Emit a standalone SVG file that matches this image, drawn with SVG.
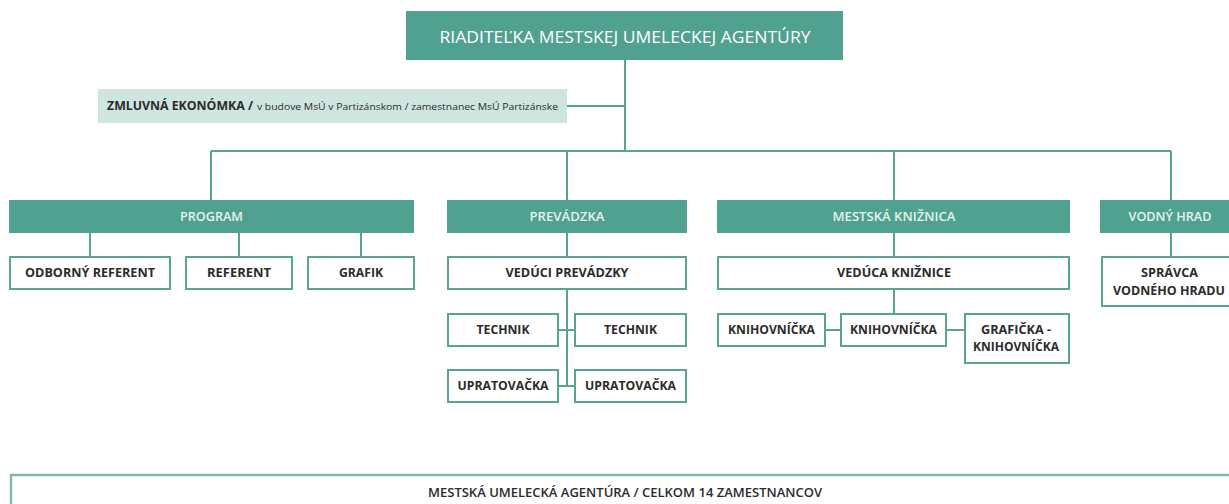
<svg xmlns="http://www.w3.org/2000/svg" width="1229" height="504" viewBox="0 0 1229 504">
<style>
.hdr{fill:#50a18f}
.box{fill:#ffffff;stroke:#58a593;stroke-width:2}
.ln{stroke:#58a593;stroke-width:2;fill:none}
.ht{font-family:"Open Sans","Liberation Sans",sans-serif;font-size:12px;font-weight:600;fill:#e4f3ee;text-anchor:middle}
.bt{font-family:"Open Sans","Liberation Sans",sans-serif;font-size:12px;font-weight:700;fill:#2b2b2b;text-anchor:middle}
</style>
<rect width="1229" height="504" fill="#ffffff"/>
<g id="connectors">
<path class="ln" d="M625,60V151M567,106H625M211,151H1171M211,151V200M567,151V200M894,151V200M1171,151V200"/>
<path class="ln" d="M90,233V257M239,233V257M361,233V257"/>
<path class="ln" d="M567,233V257M567,289V386M558,330H575M558,386H575"/>
<path class="ln" d="M894,233V257M894,289V314M825,330H841M946,330H965"/>
<path class="ln" d="M1171,233V257"/>
</g>
<g id="top"><rect class="hdr" x="406" y="11" width="437" height="49"/><text x="625" y="42.5" font-family="'Open Sans','Liberation Sans',sans-serif" font-size="16" fill="#ffffff" text-anchor="middle" textLength="371" lengthAdjust="spacingAndGlyphs">RIADITEĽKA MESTSKEJ UMELECKEJ AGENTÚRY</text></g>
<g id="econ"><rect x="98" y="89" width="469" height="34" fill="#cfe5df"/><text x="107" y="110" font-family="'Open Sans','Liberation Sans',sans-serif" font-size="12" font-weight="700" fill="#2b2b2b" textLength="146" lengthAdjust="spacingAndGlyphs">ZMLUVNÁ EKONÓMKA /</text><text x="257" y="110" font-family="'Open Sans','Liberation Sans',sans-serif" font-size="9" fill="#2b2b2b" textLength="301" lengthAdjust="spacingAndGlyphs">v budove MsÚ v Partizánskom / zamestnanec MsÚ Partizánske</text></g>
<g id="program"><rect class="hdr" x="9" y="200" width="405" height="33"/><text class="ht" x="211.5" y="221" textLength="63" lengthAdjust="spacingAndGlyphs">PROGRAM</text></g>
<g id="prevadzka"><rect class="hdr" x="447" y="200" width="240" height="33"/><text class="ht" x="567" y="221" textLength="75" lengthAdjust="spacingAndGlyphs">PREVÁDZKA</text></g>
<g id="kniznica"><rect class="hdr" x="717" y="200" width="353" height="33"/><text class="ht" x="894" y="221" textLength="123" lengthAdjust="spacingAndGlyphs">MESTSKÁ KNIŽNICA</text></g>
<g id="vodny-hrad"><rect class="hdr" x="1100" y="200" width="140" height="33"/><text class="ht" x="1170" y="221" textLength="83" lengthAdjust="spacingAndGlyphs">VODNÝ HRAD</text></g>
<g id="odborny-referent"><rect class="box" x="10" y="257" width="160" height="32"/><text class="bt" x="90" y="277" textLength="130" lengthAdjust="spacingAndGlyphs">ODBORNÝ REFERENT</text></g>
<g id="referent"><rect class="box" x="186" y="257" width="106" height="32"/><text class="bt" x="239" y="277" textLength="64" lengthAdjust="spacingAndGlyphs">REFERENT</text></g>
<g id="grafik"><rect class="box" x="308" y="257" width="106" height="32"/><text class="bt" x="361" y="277" textLength="44" lengthAdjust="spacingAndGlyphs">GRAFIK</text></g>
<g id="veduci-prevadzky"><rect class="box" x="448" y="257" width="238" height="32"/><text class="bt" x="567" y="277" textLength="123" lengthAdjust="spacingAndGlyphs">VEDÚCI PREVÁDZKY</text></g>
<g id="technik-1"><rect class="box" x="448" y="314" width="110" height="32"/><text class="bt" x="503" y="334" textLength="53" lengthAdjust="spacingAndGlyphs">TECHNIK</text></g>
<g id="technik-2"><rect class="box" x="575" y="314" width="111" height="32"/><text class="bt" x="630.5" y="334" textLength="53" lengthAdjust="spacingAndGlyphs">TECHNIK</text></g>
<g id="upratovacka-1"><rect class="box" x="448" y="370" width="110" height="32"/><text class="bt" x="503" y="390" textLength="91" lengthAdjust="spacingAndGlyphs">UPRATOVAČKA</text></g>
<g id="upratovacka-2"><rect class="box" x="575" y="370" width="111" height="32"/><text class="bt" x="630.5" y="390" textLength="91" lengthAdjust="spacingAndGlyphs">UPRATOVAČKA</text></g>
<g id="veduca-kniznice"><rect class="box" x="718" y="257" width="351" height="32"/><text class="bt" x="894" y="277" textLength="114" lengthAdjust="spacingAndGlyphs">VEDÚCA KNIŽNICE</text></g>
<g id="knihovnicka-1"><rect class="box" x="718" y="314" width="107" height="32"/><text class="bt" x="771.5" y="334" textLength="87" lengthAdjust="spacingAndGlyphs">KNIHOVNÍČKA</text></g>
<g id="knihovnicka-2"><rect class="box" x="841" y="314" width="105" height="32"/><text class="bt" x="893.5" y="334" textLength="87" lengthAdjust="spacingAndGlyphs">KNIHOVNÍČKA</text></g>
<g id="graficka-knihovnicka"><rect class="box" x="965" y="314" width="104" height="49"/><text class="bt" x="1016" y="334" textLength="70" lengthAdjust="spacingAndGlyphs">GRAFIČKA -</text><text class="bt" x="1016" y="351" textLength="86" lengthAdjust="spacingAndGlyphs">KNIHOVNÍČKA</text></g>
<g id="spravca"><rect class="box" x="1102" y="257" width="140" height="49"/><text class="bt" x="1169.5" y="277" textLength="57" lengthAdjust="spacingAndGlyphs">SPRÁVCA</text><text class="bt" x="1169" y="295" textLength="112" lengthAdjust="spacingAndGlyphs">VODNÉHO HRADU</text></g>
<g id="summary"><rect x="11" y="475" width="1230" height="40" fill="#ffffff" stroke="#7cbca9" stroke-width="2.5"/><text x="625" y="497" font-family="'Open Sans','Liberation Sans',sans-serif" font-size="12" font-weight="600" fill="#2b2b2b" text-anchor="middle" textLength="394" lengthAdjust="spacingAndGlyphs">MESTSKÁ UMELECKÁ AGENTÚRA / CELKOM 14 ZAMESTNANCOV</text></g>
</svg>
